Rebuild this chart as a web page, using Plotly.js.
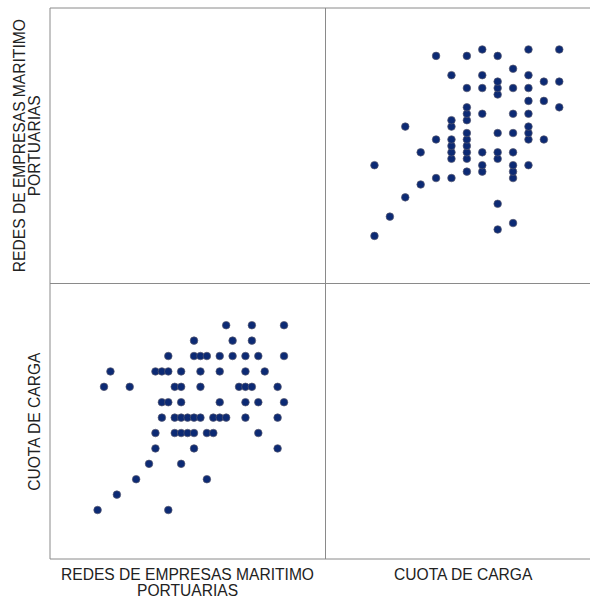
<!DOCTYPE html>
<html>
<head>
<meta charset="utf-8">
<script src="https://cdn.plot.ly/plotly-3.0.1.min.js"></script>
<style>
html,body{margin:0;padding:0;overflow:hidden;background:#fff;}
#chart{width:601px;height:599px;}
</style>
</head>
<body>
<div id="chart"></div>
<script>
// Variable labels
const varRedes = "REDES DE EMPRESAS MARITIMO PORTUARIAS";
const varCuota = "CUOTA DE CARGA";
const titleRedesLines = ["REDES DE EMPRESAS MARITIMO", "PORTUARIAS"];
const titleCuotaLines = ["CUOTA DE CARGA"];

const cuota = [
  0,0,
  1,
  2,2,
  3,3,
  4,4,4,
  5,5,5,5,5,5,5,5,
  6,6,6,6,6,6,6,6,6,6,6,
  7,7,7,7,7,7,7,
  8,8,8,8,8,8,8,8,8,
  9,9,9,9,9,9,9,9,9,
  10,10,10,10,10,10,10,10,10,
  11,11,11,
  12,12,12
];
const redes = [
  0,11,
  3,
  6,17,
  8,13,
  9,15,28,
  9,12,13,14,15,17,18,25,
  10,12,13,14,15,16,18,19,20,23,28,
  10,11,13,19,23,25,29,
  1,5,12,13,16,22,23,24,28,
  2,9,10,11,13,16,19,23,26,
  11,15,16,17,19,21,23,25,29,
  15,21,24,
  20,24,29
];

const redesRange = [-7.4, 35.45];
const cuotaRange = [-3.18, 14.71];

const marker = {size: 7.6, color: '#0c2a74', line: {color: 'rgba(90,90,110,0.75)', width: 0.9}};

const traces = [
  {type: 'scatter', mode: 'markers', x: redes, y: cuota, xaxis: 'x', yaxis: 'y',
   marker: marker, name: varCuota + ' vs ' + varRedes, hoverinfo: 'x+y'},
  {type: 'scatter', mode: 'markers', x: cuota, y: redes, xaxis: 'x2', yaxis: 'y2',
   marker: marker, name: varRedes + ' vs ' + varCuota, hoverinfo: 'x+y'}
];

const ax = (dom, rng, anchor) => ({
  domain: dom, range: rng, anchor: anchor,
  showgrid: false, zeroline: false, showline: false,
  showticklabels: false, ticks: '', fixedrange: true
});

const lineCol = '#8a8a8a';
const ln = (x0, y0, x1, y1) => ({type: 'line', xref: 'paper', yref: 'paper',
  x0: x0, y0: y0, x1: x1, y1: y1, line: {color: lineCol, width: 1}});

const font = {family: 'Liberation Sans, Arial, sans-serif', size: 15.6, color: '#222'};
const ann = (text, x, y, angle) => ({text: text, xref: 'paper', yref: 'paper',
  x: x, y: y, xanchor: 'center', yanchor: 'middle', showarrow: false,
  textangle: angle, font: font});

const layout = {
  width: 601, height: 599,
  margin: {l: 50, r: 0, t: 8, b: 40},
  paper_bgcolor: '#fff', plot_bgcolor: '#fff',
  showlegend: false,
  xaxis: ax([0, 0.5], redesRange, 'y'),
  yaxis: ax([0, 0.5], cuotaRange, 'x'),
  xaxis2: ax([0.5, 1], cuotaRange, 'y2'),
  yaxis2: ax([0.5, 1], redesRange, 'x2'),
  shapes: [
    ln(0, 0, 0, 1), ln(0, 1, 1, 1), ln(0, 0, 1, 0), ln(1, 0, 1, 1),
    ln(0.5, 0, 0.5, 1), ln(0, 0.5, 1, 0.5)
  ],
  annotations: [
    ann(titleRedesLines[0], 0.25, -0.029, 0),
    ann(titleRedesLines[1], 0.25, -0.0565, 0),
    ann(titleCuotaLines[0], 0.75, -0.029, 0),
    ann(titleRedesLines[0], -0.0555, 0.75, -90),
    ann(titleRedesLines[1], -0.028, 0.75, -90),
    ann(titleCuotaLines[0], -0.028, 0.25, -90)
  ]
};

Plotly.newPlot('chart', traces, layout, {displayModeBar: false, staticPlot: true});
</script>
</body>
</html>
